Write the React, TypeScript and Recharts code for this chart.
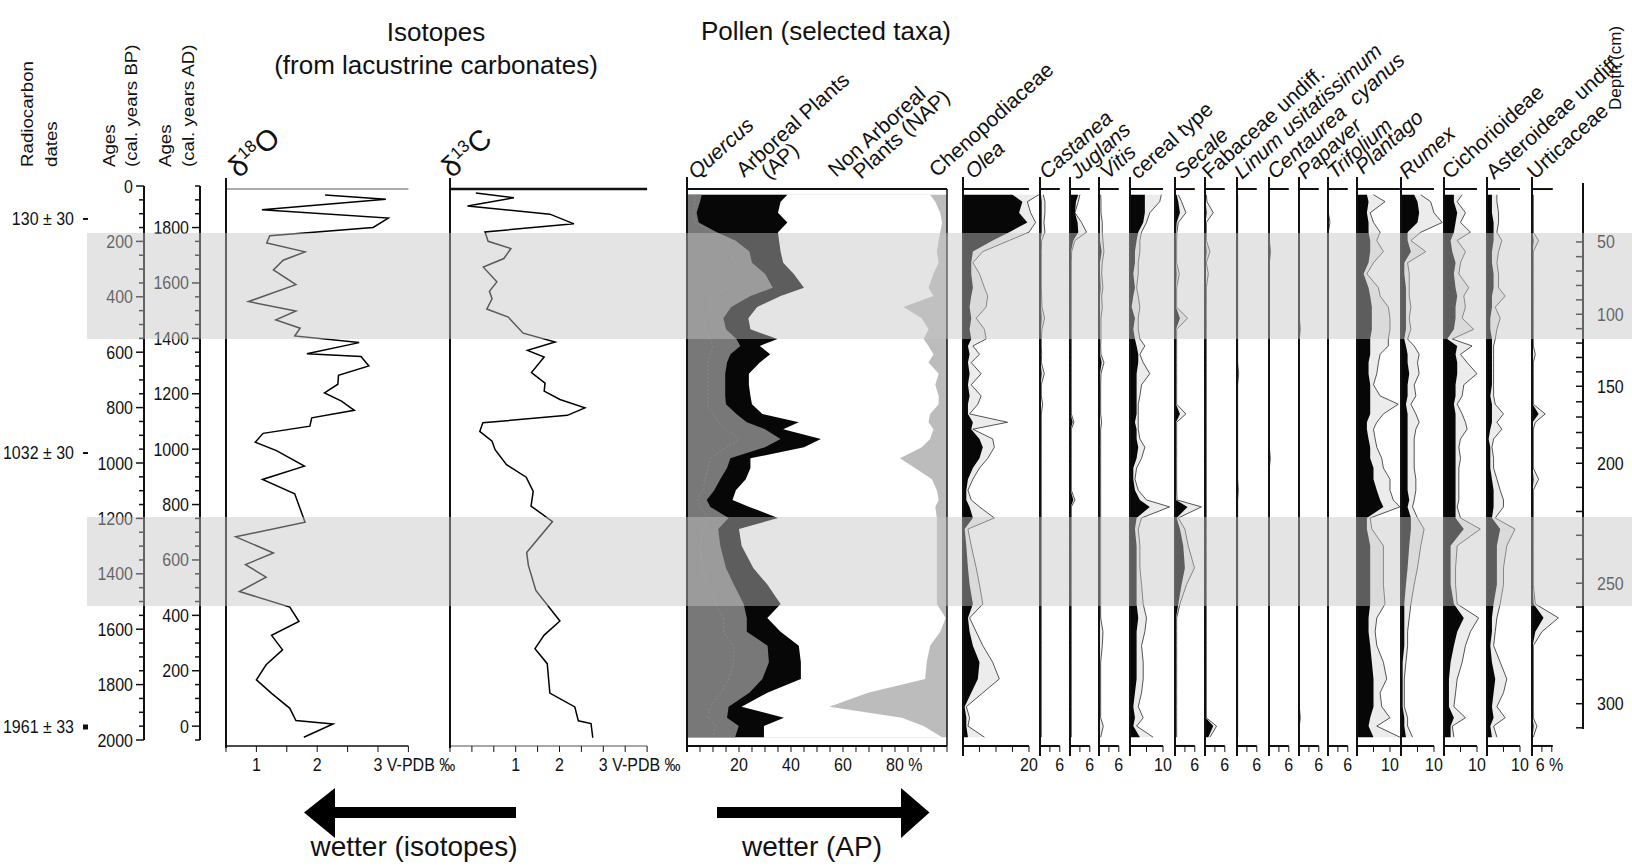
import React from "react";
import { ComposedChart, Area, Line, XAxis, YAxis, ReferenceLine } from "recharts";

const FONT = "'Liberation Sans', Arial, Helvetica, sans-serif";
const INK = "#111";

// shared vertical scale: cal. years BP -> page y
const AGE0_Y = 186;
const PX_PER_YEAR = 0.277;
const ageAt = (py: number) => (py - AGE0_Y) / PX_PER_YEAR;
const PLOT_TOP = 190;
const PLOT_BOTTOM = 746;
const PLOT_DOMAIN: [number, number] = [ageAt(PLOT_TOP), ageAt(PLOT_BOTTOM)];

// ---------- axes ----------
const bpTicks = [0, 50, 100, 150, 200, 250, 300, 350, 400, 450, 500, 550, 600, 650, 700, 750, 800, 850, 900, 950,
  1000, 1050, 1100, 1150, 1200, 1250, 1300, 1350, 1400, 1450, 1500, 1550, 1600, 1650, 1700, 1750, 1800, 1850, 1900, 1950, 2000];
const radiocarbonLabels = ["130 ± 30", "1032 ± 30", "1961 ± 33"];
const radiocarbonAges = [119, 964, 1953];
const depthLabels = [50, 60, 70, 80, 90, 100, 110, 120, 130, 140, 150, 160, 170, 180, 190, 200, 210, 220, 230, 240, 250, 260, 270, 280, 290, 300, 310];
const depthTickAges = [202, 255, 307, 359, 411, 463, 515, 567, 619, 671, 723, 779, 834, 890, 946, 1001, 1088, 1175, 1261, 1347, 1434, 1520, 1608, 1695, 1782, 1869, 1956];
const bands = [[170, 552], [1195, 1516]];

// ---------- isotopes ----------
const d18OAges = [36, 51, 89, 119, 153, 183, 209, 241, 271, 306, 359, 420, 454, 486, 516, 544, 568, 608, 618, 652, 686, 718, 749, 779, 812, 839, 869, 895, 927, 957, 1013, 1061, 1113, 1215, 1268, 1326, 1368, 1413, 1465, 1521, 1573, 1623, 1675, 1729, 1783, 1832, 1886, 1930, 1942, 1990];
const d18OValues = [2.13, 3.13, 1.09, 3.17, 2.92, 1.22, 1.17, 1.8, 1.44, 1.28, 1.65, 0.87, 1.65, 1.32, 1.72, 1.63, 2.69, 1.83, 2.72, 2.85, 2.35, 2.34, 2.12, 2.4, 2.61, 1.91, 1.88, 1.11, 0.98, 1.33, 1.79, 1.1, 1.63, 1.8, 0.66, 1.28, 0.82, 1.16, 0.72, 1.55, 1.7, 1.25, 1.43, 1.16, 1.0, 1.25, 1.55, 1.65, 2.26, 1.78];
const d13CAges = [29, 46, 76, 105, 140, 169, 203, 229, 265, 296, 349, 383, 410, 447, 476, 534, 566, 596, 620, 676, 714, 743, 773, 803, 830, 857, 888, 923, 954, 1008, 1053, 1104, 1157, 1213, 1324, 1371, 1461, 1571, 1622, 1671, 1725, 1831, 1881, 1931, 1941, 1992];
const d13CValues = [0.09, 0.96, -0.1, 1.78, 2.33, 0.3, 0.37, 0.89, 0.73, 0.26, 0.57, 0.4, 0.46, 0.34, 0.83, 1.17, 1.9, 1.27, 1.65, 1.36, 1.67, 1.65, 2.01, 2.58, 2.18, 0.25, 0.18, 0.46, 0.53, 0.79, 1.24, 1.4, 1.35, 1.84, 1.25, 1.29, 1.46, 2.01, 1.65, 1.44, 1.72, 1.78, 2.35, 2.43, 2.72, 2.76];

// ---------- pollen (% of sum), sample ages in cal. years BP ----------
const pollenAges = [35, 60, 100, 135, 170, 200, 240, 280, 320, 370,
  400, 440, 480, 520, 555, 580, 610, 640, 680, 720,
  760, 790, 825, 855, 880, 915, 945, 985, 1020, 1060,
  1100, 1135, 1160, 1200, 1240, 1300, 1380, 1440, 1510, 1560,
  1610, 1660, 1720, 1780, 1830, 1880, 1920, 1950, 1990];
const quercus = [3, 3, 2.5, 3, 9.6, 12, 17, 18, 24, 17,
  8, 9.5, 7, 6.6, 9, 10, 9, 8, 8, 8,
  8, 8, 10, 12, 15, 20, 15, 9, 8, 7,
  6, 4, 5, 8, 6, 5, 6, 8, 11, 14,
  14, 18, 18, 16, 13, 9, 8, 11, 10];
const apInner = [5.7, 5, 3.7, 4.5, 11.5, 18.6, 24, 25, 30, 33,
  24.4, 17, 14, 15, 19, 20.5, 16.7, 15.4, 14.7, 14.7,
  14.7, 15, 19, 23, 30, 36, 30, 16.7, 15.4, 12.8,
  10.5, 7.6, 9, 16, 12, 12.8, 15, 18, 21.8, 23,
  23, 31, 31.5, 29, 24, 16, 15.4, 19.9, 18.5];
const apTotal = [38.6, 36, 35, 38.6, 35, 35.4, 36, 37, 41, 45,
  36, 27, 23.6, 24.4, 34.8, 28, 32, 28, 23.8, 23.8,
  24.4, 25, 29, 43, 37, 51.5, 45, 24.4, 24.4, 22.6,
  18.8, 17.5, 24, 35, 20, 21, 25.5, 30.9, 36, 30.9,
  36, 43, 43.8, 43.8, 30.9, 21, 37.3, 29.6, 29.6];
const chenoEdge = [93.5, 95.5, 97.4, 98.1, 97.4, 96.8, 96.1, 96.8, 94.8, 92.9,
  94.8, 83.2, 90.3, 92.9, 91, 92.9, 94.8, 92.9, 96.8, 95.5,
  96.8, 96.8, 93.5, 92.9, 94.8, 93.5, 90.3, 81.9, 87.7, 94.2,
  96.1, 96.8, 95.5, 96.1, 96.1, 96.1, 96.1, 96.1, 96.1, 99.5,
  97.4, 93.5, 92.2, 91.6, 69.6, 54.8, 82.6, 91, 98.1];

const olea = [15, 18, 17, 19.5, 14, 9, 3, 2.5, 2.5, 3,
  2.5, 2, 2.5, 2, 2.5, 1.5, 2, 1.5, 2, 1.5,
  2, 1.5, 1.5, 3, 2.5, 5, 6, 5, 3, 1.5,
  1, 1, 2, 3, 0.5, 1, 1.5, 2, 3, 1.5,
  2, 3, 5, 4.5, 2.5, 0.5, 1, 1, 1.5];
const oleaExag = [23, 19.5, 20.5, 22, 20, 14, 6, 3, 5, 6.5,
  7.5, 7, 4, 6.5, 7, 3, 5, 2.5, 5.5, 2.5,
  5.5, 4.5, 2, 13.5, 3, 9, 9.5, 7.5, 5, 3,
  1.5, 2.5, 5, 9.5, 1.5, 2.5, 4, 5, 6, 2,
  4, 6, 9, 11, 6, 1, 2, 1.5, 6.5];
const castanea = [0.3, 0.5, 0.5, 0.5, 0.5, 0.2, 0.2, 0.2, 0.2, 0.2,
  0.2, 0.3, 0.5, 0.3, 0.2, 0.2, 0.2, 0.2, 0.5, 0.2,
  0.2, 0.3, 0.2, 0.2, 0.2, 0.2, 0.2, 0.2, 0.2, 0.2,
  0.2, 0.2, 0.2, 0.2, 0.2, 0.2, 0.2, 0.2, 0.2, 0.2,
  0.2, 0.2, 0.2, 0.2, 0.2, 0.2, 0.2, 0.2, 0.2];
const castaneaExag = [1, 1.5, 1.5, 1.2, 1.5, 0.5, 0.4, 0.4, 0.4, 0.4,
  0.5, 0.6, 1.4, 0.6, 0.4, 0.4, 0.5, 0.4, 1.3, 0.4,
  0.4, 0.8, 0.4, 0.4, 0.4, 0.4, 0.4, 0.4, 0.4, 0.4,
  0.4, 0.4, 0.4, 0.4, 0.4, 0.4, 0.4, 0.4, 0.4, 0.4,
  0.4, 0.4, 0.4, 0.4, 0.4, 0.4, 0.4, 0.4, 0.4];
const juglans = [2.5, 1.8, 1.5, 2.3, 2.5, 1, 0.3, 0.2, 0.2, 0.2,
  0.2, 0.2, 0.2, 0.2, 0.2, 0.2, 0.2, 0.2, 0.2, 0.2,
  0.2, 0.2, 0.2, 0.8, 0.2, 0.2, 0.2, 0.2, 0.2, 0.2,
  0.2, 1, 0.2, 0.2, 0.2, 0.2, 0.2, 0.2, 0.2, 0.2,
  0.2, 0.2, 0.2, 0.2, 0.2, 0.2, 0.2, 0.2, 0.2];
const juglansExag = [3, 2.5, 1.5, 3.5, 5, 1.5, 0.5, 0.4, 0.4, 0.4,
  0.4, 0.4, 0.4, 0.4, 0.4, 0.4, 0.4, 0.4, 0.4, 0.4,
  0.4, 0.4, 0.4, 1.2, 0.4, 0.4, 0.4, 0.4, 0.4, 0.4,
  0.4, 1.5, 0.4, 0.4, 0.4, 0.4, 0.4, 0.4, 0.4, 0.4,
  0.4, 0.4, 0.4, 0.4, 0.4, 0.4, 0.4, 0.4, 0.4];
const vitis = [0.3, 0.3, 0.3, 0.3, 0.3, 0.3, 0.8, 0.3, 0.3, 0.5,
  0.3, 0.3, 0.3, 0.3, 0.3, 0.3, 0.3, 0.8, 0.3, 0.3,
  0.3, 0.3, 0.3, 0.3, 0.3, 0.3, 0.3, 0.3, 0.3, 0.3,
  0.3, 0.3, 0.3, 0.3, 0.3, 0.3, 0.3, 0.3, 0.3, 0.3,
  0.3, 0.3, 0.3, 0.3, 0.3, 0.3, 0.3, 0.3, 0.3];
const vitisExag = [0.5, 0.6, 0.6, 1, 1, 1.2, 1.5, 1, 0.8, 1.2,
  0.8, 1, 0.6, 0.6, 0.6, 0.5, 0.6, 1.5, 0.6, 0.5,
  0.5, 0.5, 0.5, 0.8, 0.5, 0.5, 0.5, 0.5, 0.5, 0.5,
  0.5, 0.5, 0.5, 0.5, 0.5, 0.5, 0.5, 0.5, 0.5, 0.5,
  1.2, 1, 0.5, 0.5, 0.5, 0.5, 0.5, 1.3, 0.5];
const cereal = [4.5, 4.5, 4.5, 4, 2.5, 2, 1.5, 1.5, 1, 1.5,
  1, 0.5, 1.5, 1, 1.5, 2, 2.5, 2.5, 2, 2,
  2, 2, 2, 1.5, 2, 2, 2.5, 2, 1, 1,
  1.5, 3, 6, 2, 1.5, 2, 2, 2, 2, 2.5,
  2, 2, 2, 2, 1.5, 1, 1.5, 1, 3];
const cerealExag = [9.5, 9, 6, 5, 3.5, 3, 3, 2.5, 2.5, 2,
  2.5, 3, 2.5, 2.5, 3, 4.5, 3, 4, 6, 3.5,
  3, 2.5, 2.5, 2.5, 2.5, 3, 4.5, 3.5, 2, 1.5,
  2.5, 5, 12, 3.5, 2.5, 3, 3, 3.5, 4, 5,
  4.5, 3.5, 4, 4, 3.5, 2.5, 4, 2, 7];
const secale = [0.5, 1, 1.5, 0.5, 0.3, 0.3, 0.3, 0.3, 0.5, 0.3,
  0.3, 0.3, 1.5, 0.3, 0.3, 0.3, 0.3, 0.3, 0.3, 0.3,
  0.3, 0.3, 1.5, 0.3, 0.3, 0.3, 0.3, 0.3, 0.3, 0.3,
  0.3, 0.3, 3.8, 0.5, 1.5, 2.5, 3, 2, 1, 0.3,
  0.3, 0.3, 0.3, 0.3, 0.3, 0.3, 0.3, 0.3, 0.3];
const secaleExag = [1, 2, 3.3, 1, 0.6, 0.5, 0.5, 0.5, 1.3, 0.5,
  0.5, 0.5, 3.8, 0.5, 0.5, 0.5, 0.5, 0.5, 0.5, 0.5,
  0.5, 0.5, 3.3, 0.5, 0.5, 0.5, 0.5, 0.5, 0.5, 0.5,
  0.5, 0.6, 8, 1, 3, 4, 5.9, 3.5, 1.5, 0.5,
  0.5, 0.5, 0.5, 0.5, 0.5, 0.5, 0.5, 0.5, 0.5];
const fabaceae = [0.2, 0.2, 0.5, 0.2, 0.2, 0.2, 0.5, 0.2, 0.3, 0.2,
  0.2, 0.2, 0.2, 0.2, 0.2, 0.2, 0.2, 0.2, 0.2, 0.2,
  0.2, 0.2, 0.2, 0.2, 0.2, 0.2, 0.2, 0.2, 0.2, 0.2,
  0.2, 0.2, 0.2, 0.2, 0.2, 0.2, 0.2, 0.2, 0.2, 0.2,
  0.2, 0.2, 0.2, 0.2, 0.2, 0.2, 0.2, 2.5, 1];
const fabaceaeExag = [0.4, 0.6, 2.5, 0.4, 0.4, 0.4, 1.5, 0.4, 1, 0.4,
  0.4, 0.4, 0.4, 0.4, 0.4, 0.4, 0.4, 0.4, 0.4, 0.4,
  0.4, 0.4, 0.4, 0.4, 0.4, 0.4, 0.4, 0.4, 0.4, 0.4,
  0.4, 0.4, 0.4, 0.4, 0.4, 0.4, 0.4, 0.4, 0.4, 0.4,
  0.4, 0.4, 0.4, 0.4, 0.4, 0.4, 0.4, 3.5, 1.5];
const linum = [0, 0, 0, 0, 0, 0, 0, 0, 0, 0,
  0, 0, 0, 0, 0, 0, 0, 0, 0.2, 0,
  0, 0, 0, 0, 0, 0, 0, 0, 0, 0,
  0.2, 0, 0, 0, 0, 0, 0, 0, 0, 0,
  0, 0, 0, 0, 0, 0, 0, 0, 0];
const linumExag = [0.2, 0.2, 0.2, 0.2, 0.2, 0.2, 0.2, 0.2, 0.2, 0.2,
  0.2, 0.2, 0.2, 0.2, 0.2, 0.2, 0.2, 0.2, 0.5, 0.2,
  0.2, 0.2, 0.2, 0.2, 0.2, 0.2, 0.2, 0.2, 0.2, 0.2,
  0.4, 0.2, 0.2, 0.2, 0.2, 0.2, 0.2, 0.2, 0.2, 0.2,
  0.2, 0.2, 0.2, 0.2, 0.2, 0.2, 0.2, 0.2, 0.2];
const centaurea = [0, 0, 0, 0, 0, 0, 0.2, 0, 0, 0,
  0, 0, 0, 0, 0, 0, 0, 0, 0, 0,
  0, 0, 0, 0, 0, 0, 0, 0.2, 0, 0,
  0, 0, 0, 0, 0, 0, 0, 0, 0, 0,
  0, 0, 0, 0, 0, 0, 0, 0, 0];
const centaureaExag = [0.1, 0.1, 0.1, 0.1, 0.1, 0.1, 0.5, 0.1, 0.1, 0.1,
  0.1, 0.1, 0.1, 0.1, 0.1, 0.1, 0.1, 0.1, 0.1, 0.1,
  0.1, 0.1, 0.1, 0.1, 0.1, 0.1, 0.1, 0.4, 0.1, 0.1,
  0.1, 0.1, 0.1, 0.1, 0.1, 0.1, 0.1, 0.1, 0.1, 0.1,
  0.1, 0.1, 0.1, 0.1, 0.1, 0.1, 0.1, 0.1, 0.1];
const papaver = [0, 0, 0, 0, 0, 0, 0, 0, 0, 0,
  0, 0, 0, 0.2, 0, 0, 0, 0, 0, 0,
  0, 0, 0, 0, 0, 0, 0, 0, 0, 0,
  0, 0, 0, 0, 0, 0, 0, 0, 0, 0,
  0, 0, 0, 0, 0, 0, 0.2, 0, 0];
const papaverExag = [0.1, 0.1, 0.1, 0.1, 0.1, 0.1, 0.1, 0.1, 0.1, 0.1,
  0.1, 0.1, 0.1, 0.4, 0.1, 0.1, 0.1, 0.1, 0.1, 0.1,
  0.1, 0.1, 0.1, 0.1, 0.1, 0.1, 0.1, 0.1, 0.1, 0.1,
  0.1, 0.1, 0.1, 0.1, 0.1, 0.1, 0.1, 0.1, 0.1, 0.1,
  0.1, 0.1, 0.1, 0.1, 0.1, 0.1, 0.4, 0.1, 0.1];
const trifolium = [0, 0, 0, 0.3, 0, 0, 0, 0, 0, 0,
  0, 0, 0, 0, 0, 0, 0, 0, 0, 0,
  0, 0, 0, 0, 0, 0, 0, 0, 0, 0,
  0, 0, 0, 0, 0, 0, 0, 0, 0, 0,
  0, 0, 0, 0, 0, 0, 0, 0, 0];
const trifoliumExag = [0.1, 0.1, 0.1, 0.6, 0.1, 0.1, 0.1, 0.1, 0.1, 0.1,
  0.1, 0.1, 0.1, 0.1, 0.1, 0.1, 0.1, 0.1, 0.1, 0.1,
  0.1, 0.1, 0.1, 0.1, 0.1, 0.1, 0.1, 0.1, 0.1, 0.1,
  0.1, 0.1, 0.1, 0.1, 0.1, 0.1, 0.1, 0.1, 0.1, 0.1,
  0.1, 0.1, 0.1, 0.1, 0.1, 0.1, 0.1, 0.1, 0.1];
const plantago = [3, 3.5, 3, 3.5, 3.5, 4, 4, 3.5, 2, 3.5,
  4, 4.5, 4.5, 4.5, 4, 4, 4, 3.5, 3.5, 4,
  4, 4, 4, 3, 3, 3.5, 4, 4, 5, 5,
  6, 7, 8, 3, 3, 4, 4, 4, 4, 3.5,
  3.5, 4, 4.5, 5, 5, 5, 4, 3.5, 5];
const plantagoExag = [5, 8.5, 4, 5, 7, 6, 8, 5, 3, 6.5,
  7, 9.5, 10, 10, 9.5, 9.5, 7, 6.5, 6, 5,
  7, 12.5, 8, 6, 5, 5.5, 6, 7.5, 8, 10,
  10, 11, 13, 4, 4.5, 8, 8, 8, 8.5, 6,
  5.5, 6, 8, 9, 7, 7.5, 10, 6, 13];
const rumex = [4, 5, 5.5, 5, 2, 2, 3, 1, 1, 1.5,
  1.5, 1.5, 1.5, 1.5, 1, 1.5, 2, 2, 2.5, 2,
  2, 1.5, 2, 2, 2, 2, 2, 2, 2, 2,
  2, 2.5, 2, 3, 3, 2.5, 2, 1.5, 1, 1,
  1, 1, 0.5, 0.5, 0.5, 0.5, 1, 1, 1.5];
const rumexExag = [6, 9, 10, 12.5, 6, 3, 7.5, 2, 2.5, 2.5,
  2.5, 3, 2.5, 3, 2, 4, 5.5, 5, 5.5, 4,
  4.5, 3, 4.5, 5.5, 4.5, 4, 4, 4, 4, 4.5,
  4.5, 4, 3.5, 5, 7, 6, 5, 4, 3, 2.5,
  2, 2, 1.5, 1, 1, 1, 2, 2, 3.5];
const cichorioideae = [3, 3, 4, 3.5, 3, 2, 2.5, 3.5, 3, 3.5,
  4, 3.5, 3.5, 3, 1, 4, 3.5, 4, 4, 3.5,
  3.5, 3, 3.5, 3.5, 3.5, 3.5, 3.5, 3.5, 3.5, 3.5,
  3.5, 3.5, 3.5, 3.5, 6, 2, 2, 2, 3, 6,
  4, 3, 2, 1.5, 1.5, 1.5, 3, 2, 2];
const cichorioideaeExag = [5.5, 4, 6.5, 5, 8, 4, 6.5, 5, 4.5, 7.5,
  6, 6.5, 5.5, 9, 2.5, 8.5, 5, 7, 10, 6,
  5.5, 4, 5.5, 6.5, 7, 5, 4.5, 5, 4.5, 4.5,
  4.5, 4.5, 4, 5, 11, 4, 3.5, 3.5, 4, 10.5,
  8, 6.5, 5.5, 4, 3.5, 3, 6.5, 2.5, 3];
const asteroideae = [1.5, 1.5, 1.5, 2, 2, 2, 1.5, 1.5, 2, 2,
  1.5, 1.5, 1, 1, 1.5, 1.5, 1.5, 1.5, 1.5, 1.5,
  1, 1.5, 1.5, 1.5, 1, 0.5, 1, 1, 1, 1.5,
  2, 2, 2, 1.5, 4, 3, 3, 3, 2, 1.5,
  1.5, 1, 1.5, 2.5, 2, 1.5, 2, 1, 1.5];
const asteroideaeExag = [3, 3, 3.5, 3.5, 3, 4.5, 3.5, 3, 3.5, 3.5,
  5.5, 2.5, 4, 3, 2.5, 2, 2, 2, 2, 2,
  2, 2.5, 5, 3, 4.5, 2, 1.5, 2, 2, 3,
  4, 5, 5, 2.5, 8.5, 6, 5, 5, 4, 3,
  2.5, 2, 4, 6, 5, 3, 5.5, 2, 3];
const urticaceae = [0.2, 0.2, 0.2, 0.2, 0.2, 0.5, 0.2, 0.2, 0.2, 0.2,
  0.2, 0.2, 0.2, 0.2, 0.2, 0.2, 0.2, 0.2, 0.2, 0.2,
  0.2, 0.2, 2, 0.2, 0.2, 0.2, 0.2, 0.2, 0.2, 0.5,
  0.2, 0.2, 0.2, 0.2, 0.2, 0.2, 0.2, 0.2, 0.5, 3.5,
  1, 0.2, 0.2, 0.2, 0.2, 0.2, 0.2, 0.5, 0.2];
const urticaceaeExag = [0.4, 0.4, 0.4, 0.4, 0.4, 2, 0.4, 0.4, 0.4, 0.4,
  0.4, 0.4, 0.4, 0.4, 0.4, 0.4, 1, 0.4, 0.4, 0.4,
  0.4, 0.4, 4, 1, 0.4, 0.4, 0.4, 0.4, 0.4, 2,
  0.4, 0.4, 0.4, 0.4, 0.4, 0.4, 0.4, 0.4, 1, 8,
  3, 0.4, 0.4, 0.4, 0.4, 0.4, 0.4, 1.5, 0.4];

const taxa = [
  { key: "olea", name: "Olea", italic: true, x: 963, axisMax: 20, ticks: [0, 5, 10, 15, 20], labelAt: 20, label: "20", lx: 969, ly: 177, pct: olea, exag: oleaExag },
  { key: "castanea", name: "Castanea", italic: true, x: 1040, axisMax: 6, ticks: [0, 3, 6], labelAt: 6, label: "6", lx: 1043, ly: 177, pct: castanea, exag: castaneaExag },
  { key: "juglans", name: "Juglans", italic: true, x: 1070, axisMax: 6, ticks: [0, 3, 6], labelAt: 6, label: "6", lx: 1074, ly: 177, pct: juglans, exag: juglansExag },
  { key: "vitis", name: "Vitis", italic: true, x: 1099, axisMax: 6, ticks: [0, 3, 6], labelAt: 6, label: "6", lx: 1104, ly: 177, pct: vitis, exag: vitisExag },
  { key: "cereal", name: "cereal type", italic: false, x: 1130, axisMax: 10, ticks: [0, 5, 10], labelAt: 10, label: "10", lx: 1134, ly: 177, pct: cereal, exag: cerealExag },
  { key: "secale", name: "Secale", italic: true, x: 1175, axisMax: 6, ticks: [0, 3, 6], labelAt: 6, label: "6", lx: 1178, ly: 177, pct: secale, exag: secaleExag },
  { key: "fabaceae", name: "Fabaceae undiff.", italic: false, x: 1205, axisMax: 6, ticks: [0, 3, 6], labelAt: 6, label: "6", lx: 1206, ly: 177, pct: fabaceae, exag: fabaceaeExag },
  { key: "linum", name: "Linum usitatissimum", italic: true, x: 1237, axisMax: 6, ticks: [0, 3, 6], labelAt: 6, label: "6", lx: 1238, ly: 177, pct: linum, exag: linumExag },
  { key: "centaurea", name: "Centaurea\u00a0 cyanus", italic: true, x: 1269, axisMax: 6, ticks: [0, 3, 6], labelAt: 6, label: "6", lx: 1271, ly: 177, pct: centaurea, exag: centaureaExag },
  { key: "papaver", name: "Papaver", italic: true, x: 1299, axisMax: 6, ticks: [0, 3, 6], labelAt: 6, label: "6", lx: 1301, ly: 177, pct: papaver, exag: papaverExag },
  { key: "trifolium", name: "Trifolium", italic: true, x: 1328, axisMax: 6, ticks: [0, 3, 6], labelAt: 6, label: "6", lx: 1331, ly: 177, pct: trifolium, exag: trifoliumExag },
  { key: "plantago", name: "Plantago", italic: true, x: 1356.5, axisMax: 13, ticks: [0, 5, 10], labelAt: 10, label: "10", lx: 1359, ly: 172, pct: plantago, exag: plantagoExag },
  { key: "rumex", name: "Rumex", italic: true, x: 1401, axisMax: 10, ticks: [0, 5, 10], labelAt: 10, label: "10", lx: 1403, ly: 177, pct: rumex, exag: rumexExag },
  { key: "cichorioideae", name: "Cichorioideae", italic: false, x: 1443.5, axisMax: 10, ticks: [0, 5, 10], labelAt: 10, label: "10", lx: 1446, ly: 177, pct: cichorioideae, exag: cichorioideaeExag },
  { key: "asteroideae", name: "Asteroideae undiff.", italic: false, x: 1487, axisMax: 10, ticks: [0, 5, 10], labelAt: 10, label: "10", lx: 1490, ly: 177, pct: asteroideae, exag: asteroideaeExag },
  { key: "urticaceae", name: "Urticaceae", italic: false, x: 1531.5, axisMax: 6.3, ticks: [0, 3, 6], labelAt: 6, label: "6 %", lx: 1531, ly: 177, pct: urticaceae, exag: urticaceaeExag },
];

const pctTicks = [0, 5, 10, 15, 20, 25, 30, 35, 40, 45, 50, 55, 60, 65, 70, 75, 80, 85, 90, 95, 100];
const d18OTicks = [0.5, 1, 1.5, 2, 2.5, 3, 3.5];
const d13CTicks = [-0.5, 0, 0.5, 1, 1.5, 2, 2.5, 3, 3.5, 4];

const pollenRows = pollenAges.map((age, i) => {
  const row: Record<string, number> = {
    age, full: 100, quercus: quercus[i], apInner: apInner[i], apTotal: apTotal[i], chenoEdge: chenoEdge[i],
  };
  taxa.forEach((t) => {
    row[t.key + "B"] = t.pct[i];
    row[t.key + "E"] = t.exag[i];
  });
  return row;
});
const d18ORows = d18OAges.map((age, i) => ({ age, value: d18OValues[i] }));
const d13CRows = d13CAges.map((age, i) => ({ age, value: d13CValues[i] }));
// band edges, with a null row after each band so the two shaded zones stay apart
const bandRows = bands.flatMap(([from, to]) => [
  { age: from, band: 1 },
  { age: to, band: 1 },
  { age: to + 1, band: null },
]);

function TickText({ x, y, anchor = "middle", children }: any) {
  return (
    <text transform={`translate(${x},${y}) scale(1,1.15)`} textAnchor={anchor} fontSize={16} fontFamily={FONT} fill={INK}>
      {children}
    </text>
  );
}

const M = { top: 15, right: 6, bottom: 35, left: 6 };
const AX = 1; // height of the (tick-only) x axes

function Panel({ x, lo, hi, ppu, axisEnd, topTicks, bottomTicks, labels, data, topLine, bottomLine, rightBorder, vTop, vBottom, children }: any) {
  const plotW = (hi - lo) * ppu;
  const plotH = PLOT_BOTTOM - PLOT_TOP;
  const [a0, a1] = PLOT_DOMAIN;
  const labelY = M.top + AX + plotH + 25;
  const bottomTick = (props: any) => {
    const lab = labels.find((l: any) => l.v === props.payload.value);
    if (!lab) return <g />;
    return (
      <TickText x={props.x + (lab.dx || 0)} y={labelY} anchor={lab.anchor || "middle"}>
        {lab.text}
      </TickText>
    );
  };
  return (
    <div style={{ position: "absolute", left: x - M.left, top: PLOT_TOP - M.top - AX }}>
      <ComposedChart layout="vertical" width={plotW + M.left + M.right} height={plotH + M.top + M.bottom + 2 * AX} data={data} margin={M}>
        <XAxis xAxisId="top" orientation="top" type="number" domain={[lo, hi]} height={AX}
          ticks={topTicks.length ? topTicks : [lo]} interval={0} axisLine={false}
          tickLine={topTicks.length ? { stroke: INK, strokeWidth: 1 } : false} tickSize={4} mirror tick={() => <g />} />
        <XAxis xAxisId="bot" orientation="bottom" type="number" domain={[lo, hi]} height={AX}
          ticks={bottomTicks} interval={0} axisLine={false} tickLine={{ stroke: INK, strokeWidth: 1 }} tickSize={6} tickMargin={0} tick={bottomTick} />
        <YAxis yAxisId="age" type="number" dataKey="age" domain={PLOT_DOMAIN} hide />
        {children}
        {topLine && (
          <ReferenceLine xAxisId="bot" yAxisId="age" segment={[{ x: lo, y: a0 }, { x: axisEnd, y: a0 }]}
            stroke={topLine.color} strokeWidth={topLine.width} ifOverflow="visible" />
        )}
        <ReferenceLine xAxisId="bot" yAxisId="age" segment={[{ x: lo, y: a1 }, { x: axisEnd, y: a1 }]}
          stroke={bottomLine.color} strokeWidth={bottomLine.width} ifOverflow="visible" />
        <ReferenceLine xAxisId="bot" yAxisId="age" segment={[{ x: lo, y: ageAt(vTop) }, { x: lo, y: ageAt(vBottom) }]}
          stroke={INK} strokeWidth={2} ifOverflow="visible" />
        {rightBorder != null && (
          <ReferenceLine xAxisId="bot" yAxisId="age" segment={[{ x: rightBorder, y: a0 }, { x: rightBorder, y: a1 }]}
            stroke={INK} strokeWidth={1.5} ifOverflow="visible" />
        )}
      </ComposedChart>
    </div>
  );
}

function AxisColumn({ lineX, top, bottom, domain, ticks, tick, axisLine, left = 80, right = 20 }: any) {
  return (
    <div style={{ position: "absolute", left: lineX - left, top: top - 10 }}>
      <ComposedChart layout="vertical" width={left + right} height={bottom - top + 20}
        data={ticks.map((t: number) => ({ age: t }))} margin={{ top: 10, right: right - 8, bottom: 10, left: 0 }}>
        <XAxis type="number" domain={[0, 1]} hide />
        <YAxis type="number" dataKey="age" domain={domain} ticks={ticks} interval={0} width={left}
          tickSize={0} tickMargin={0} tickLine={false} axisLine={axisLine} tick={tick} />
      </ComposedChart>
    </div>
  );
}

const bpTick = (p: any) => {
  const v = p.payload.value;
  const major = v % 200 === 0;
  return (
    <g>
      <line x1={p.x - (major ? 8 : 5)} x2={p.x} y1={p.y} y2={p.y} stroke={INK} strokeWidth={1.5} />
      {major && <TickText x={p.x - 11} y={p.y + 6.5} anchor="end">{v}</TickText>}
    </g>
  );
};
const adTick = (p: any) => {
  const ad = 1950 - p.payload.value;
  const major = ad >= 0 && ad % 200 === 0;
  return (
    <g>
      <line x1={p.x - (major ? 8 : 5)} x2={p.x} y1={p.y} y2={p.y} stroke={INK} strokeWidth={1.5} />
      {major && <TickText x={p.x - 11} y={p.y + 6.5} anchor="end">{ad}</TickText>}
    </g>
  );
};
const rcTick = (p: any) => {
  const i = radiocarbonAges.indexOf(p.payload.value);
  const h = i === 2 ? 5 : 2;
  return (
    <g>
      <rect x={p.x - 5} y={p.y - h / 2} width={5} height={h} fill={INK} />
      <TickText x={p.x - 14} y={p.y + 6} anchor="end">{radiocarbonLabels[i]}</TickText>
    </g>
  );
};
const depthTick = (p: any) => {
  const i = depthTickAges.indexOf(p.payload.value);
  const d = depthLabels[i];
  const major = d % 50 === 0;
  return (
    <g>
      <line x1={p.x - 7} x2={p.x} y1={p.y} y2={p.y} stroke={INK} strokeWidth={1.5} />
      {major && <TickText x={p.x + 14} y={p.y + 6.5} anchor="start">{d}</TickText>}
    </g>
  );
};

const headerLabels = [
  { text: "Quercus", x: 692, y: 177, italic: true },
  { text: "Arboreal Plants", x: 740, y: 175, italic: false },
  { text: "(AP)", x: 765, y: 177, italic: false },
  { text: "Non Arboreal", x: 832, y: 175, italic: false },
  { text: "Plants (NAP)", x: 857, y: 177, italic: false },
  { text: "Chenopodiaceae", x: 933, y: 175, italic: false },
];

const sideTitles = [
  { text: "Radiocarbon", x: 33 },
  { text: "dates", x: 56.5 },
  { text: "Ages", x: 115 },
  { text: "(cal. years BP)", x: 137 },
  { text: "Ages", x: 171 },
  { text: "(cal. years AD)", x: 194 },
];

const LABEL_DX = 4;
const LABEL_DY = 3;

function Diagonal({ text, x, y, italic }: any) {
  return (
    <text transform={`translate(${x + LABEL_DX},${y + LABEL_DY}) rotate(-42)`} fontSize={21} fontStyle={italic ? "italic" : "normal"} fontFamily={FONT} fill={INK}>
      {text}
    </text>
  );
}

export default function App() {
  const [a0, a1] = PLOT_DOMAIN;
  return (
    <div style={{ position: "absolute", left: 0, top: 0, width: 1632, height: 866, background: "#fff", overflow: "hidden" }}>
      <style>{".recharts-surface{overflow:visible}"}</style>
      <svg width={1632} height={866} style={{ position: "absolute", left: 0, top: 0 }}>
        <g fontFamily={FONT} fill={INK}>
          <text x={436} y={41} fontSize={26} textAnchor="middle">Isotopes</text>
          <text x={436} y={74} fontSize={26} textAnchor="middle">(from lacustrine carbonates)</text>
          <text x={826} y={40} fontSize={26} textAnchor="middle">Pollen (selected taxa)</text>
          {sideTitles.map((s, i) => (
            <text key={i} transform={`translate(${s.x},167) rotate(-90) scale(1.1,1)`} fontSize={17}>{s.text}</text>
          ))}
          <text transform="translate(1621,110) rotate(-90)" fontSize={17}>Depth (cm)</text>
          <text transform="translate(239,179) rotate(-42)" fontSize={29}>
            δ<tspan fontSize={17} dy={-11}>18</tspan><tspan dy={11}>O</tspan>
          </text>
          <text transform="translate(452,179) rotate(-42)" fontSize={29}>
            δ<tspan fontSize={17} dy={-11}>13</tspan><tspan dy={11}>C</tspan>
          </text>
          {headerLabels.map((l, i) => <Diagonal key={i} {...l} />)}
          {taxa.map((t) => <Diagonal key={t.key} text={t.name} x={t.lx} y={t.ly} italic={t.italic} />)}
          <rect x={335} y={807} width={181} height={11} fill="#000" />
          <polygon points="304,812.5 335,788 335,838" fill="#000" />
          <rect x={717} y={807} width={184} height={11} fill="#000" />
          <polygon points="929.5,812.5 901,788 901,838" fill="#000" />
          <text x={414} y={856} fontSize={28} textAnchor="middle">wetter (isotopes)</text>
          <text x={812} y={856} fontSize={28} textAnchor="middle">wetter (AP)</text>
        </g>
      </svg>

      <AxisColumn lineX={87.5} top={AGE0_Y} bottom={AGE0_Y + 2000 * PX_PER_YEAR} domain={[0, 2000]}
        ticks={radiocarbonAges} tick={rcTick} axisLine={false} left={88} />
      <AxisColumn lineX={144} top={AGE0_Y} bottom={AGE0_Y + 2000 * PX_PER_YEAR} domain={[0, 2000]}
        ticks={bpTicks} tick={bpTick} axisLine={{ stroke: INK, strokeWidth: 2 }} left={60} />
      <AxisColumn lineX={200} top={AGE0_Y} bottom={AGE0_Y + 2000 * PX_PER_YEAR} domain={[0, 2000]}
        ticks={bpTicks} tick={adTick} axisLine={{ stroke: INK, strokeWidth: 2 }} left={50} />
      <AxisColumn lineX={1583} top={183} bottom={729} domain={[ageAt(183), ageAt(729)]}
        ticks={depthTickAges} tick={depthTick} axisLine={{ stroke: INK, strokeWidth: 2 }} left={10} right={48} />

      <Panel x={226} lo={0.5} hi={3.5} ppu={60.8} axisEnd={3.5} topTicks={d18OTicks} bottomTicks={d18OTicks}
        labels={[{ v: 1, text: "1" }, { v: 2, text: "2" }, { v: 3, text: "3 V-PDB ‰", anchor: "start", dx: -4.5 }]}
        data={d18ORows} topLine={{ color: "#555", width: 1 }} bottomLine={{ color: INK, width: 1.5 }} vTop={179} vBottom={748}>
        <Line xAxisId="bot" yAxisId="age" dataKey="value" stroke="#000" strokeWidth={1.5} dot={false} isAnimationActive={false} />
      </Panel>
      <Panel x={450} lo={-0.5} hi={4} ppu={43.8} axisEnd={4} topTicks={[]} bottomTicks={d13CTicks}
        labels={[{ v: 1, text: "1" }, { v: 2, text: "2" }, { v: 3, text: "3 V-PDB ‰", anchor: "start", dx: -4.5 }]}
        data={d13CRows} topLine={{ color: INK, width: 2.5 }} bottomLine={{ color: "#8a8a8a", width: 1.5 }} vTop={179} vBottom={748}>
        <Line xAxisId="bot" yAxisId="age" dataKey="value" stroke="#000" strokeWidth={1.5} dot={false} isAnimationActive={false} />
      </Panel>

      <Panel x={687} lo={0} hi={101} ppu={2.6} axisEnd={100} topTicks={pctTicks} bottomTicks={pctTicks}
        labels={[{ v: 20, text: "20" }, { v: 40, text: "40" }, { v: 60, text: "60" }, { v: 80, text: "80 %", anchor: "start", dx: -9 }]}
        data={pollenRows} topLine={{ color: INK, width: 2 }} bottomLine={{ color: INK, width: 2 }} rightBorder={100} vTop={178} vBottom={752}>
        <Area xAxisId="bot" yAxisId="age" dataKey="full" baseValue={0} fill="#bcbcbc" fillOpacity={1} stroke="none" isAnimationActive={false} />
        <Area xAxisId="bot" yAxisId="age" dataKey="chenoEdge" baseValue={0} fill="#ffffff" fillOpacity={1} stroke="none" isAnimationActive={false} />
        <Area xAxisId="bot" yAxisId="age" dataKey="apTotal" baseValue={0} fill="#070707" fillOpacity={1} stroke="none" isAnimationActive={false} />
        <Area xAxisId="bot" yAxisId="age" dataKey="apInner" baseValue={0} fill="#787878" fillOpacity={1} stroke="none" isAnimationActive={false} />
        <Line xAxisId="bot" yAxisId="age" dataKey="quercus" stroke="#898989" strokeWidth={1} strokeDasharray="2 2" dot={false} isAnimationActive={false} />
      </Panel>

      {taxa.map((t) => {
        const hi = Math.max(t.axisMax, ...t.exag) + 1.5;
        return (
          <Panel key={t.key} x={t.x} lo={0} hi={hi} ppu={3.3} axisEnd={t.axisMax} topTicks={t.ticks} bottomTicks={t.ticks}
            labels={[t.key === "urticaceae" ? { v: t.labelAt, text: t.label, anchor: "start", dx: -16 } : { v: t.labelAt, text: t.label }]}
            data={pollenRows} topLine={{ color: INK, width: 2 }} bottomLine={{ color: INK, width: 2 }} vTop={178} vBottom={756}>
            <Area xAxisId="bot" yAxisId="age" dataKey={t.key + "E"} baseValue={0} fill="#ececec" fillOpacity={1} stroke="#2a2a2a" strokeWidth={0.8} isAnimationActive={false} />
            <Area xAxisId="bot" yAxisId="age" dataKey={t.key + "B"} baseValue={0} fill="#070707" fillOpacity={1} stroke="none" isAnimationActive={false} />
          </Panel>
        );
      })}

      <div style={{ position: "absolute", left: 87, top: PLOT_TOP, pointerEvents: "none" }}>
        <ComposedChart layout="vertical" width={1632 - 87} height={PLOT_BOTTOM - PLOT_TOP}
          data={bandRows} margin={{ top: 0, right: 0, bottom: 0, left: 0 }}>
          <XAxis type="number" domain={[0, 1]} hide />
          <YAxis type="number" dataKey="age" domain={[a0, a1]} hide />
          <Area dataKey="band" baseValue={0} fill="#c4c4c4" fillOpacity={0.46} stroke="none" connectNulls={false} isAnimationActive={false} />
        </ComposedChart>
      </div>
    </div>
  );
}
